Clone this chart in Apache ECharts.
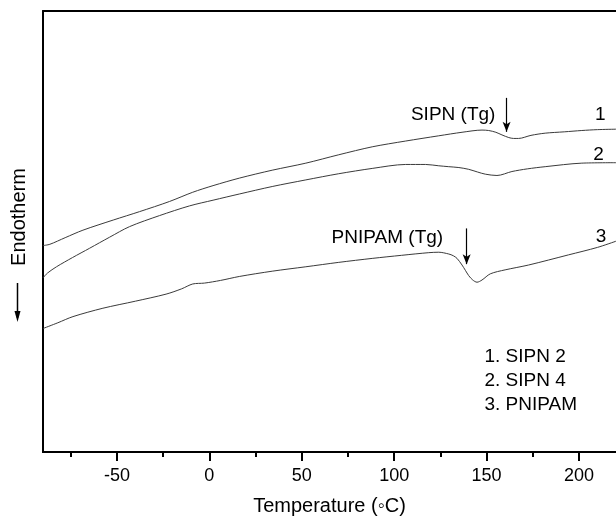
<!DOCTYPE html>
<html>
<head>
<meta charset="utf-8">
<script src="https://cdn.jsdelivr.net/npm/echarts@6/dist/echarts.min.js"></script>
<style>
html,body{margin:0;padding:0;background:#fff;}
#chart{width:616px;height:517px;}
</style>
</head>
<body>
<div id="chart"></div>
<script>
// ---- data (temperature in °C, heat flow in arbitrary units) ----
const curve1 = [[-90.1,46.8],[-86.3,47.1],[-78,48.6],[-68.4,50.3],[-52,52.6],[-37.8,54.5],[-21.6,56.8],[-9.0,58.9],[2,60.4],[16.2,62.1],[34,63.9],[52.2,65.5],[70,67.4],[88.1,69.2],[106,70.5],[124.1,71.7],[136.7,72.5],[147.5,73.0],[151.1,72.9],[155,72.5],[158.3,71.9],[162,71.3],[164.6,71.1],[167.3,71.1],[174,71.8],[181.7,72.3],[192,72.6],[201.5,72.9],[210,73.1],[220,73.2]];
const curve2 = [[-90,39.5],[-87.5,40.6],[-82.7,42.0],[-74,44.1],[-64.8,46.2],[-54,48.7],[-43.2,51.1],[-27,53.6],[-10.8,55.8],[2,57.1],[16.2,58.5],[34,60.2],[52.2,61.7],[70,63.1],[88.1,64.3],[106.2,65.2],[117.0,65.2],[124.1,64.9],[129.5,64.7],[135,64.5],[140.3,64.1],[145,63.5],[149.3,63.0],[155.6,62.7],[163.7,63.6],[172,64.2],[181.7,64.7],[201.5,65.5],[220,65.6]];
const curve3 = [[-90,28.0],[-82,29.3],[-73.8,30.7],[-57.6,32.6],[-40,34.2],[-23.4,35.8],[-15,37.0],[-9.0,38.1],[-2.7,38.3],[6,38.9],[16.2,39.8],[34,41.0],[52.2,42.0],[70,43.0],[88.1,43.9],[104,44.6],[118.7,45.2],[124.1,45.3],[129.5,44.9],[132,44.5],[134.0,43.9],[136.7,42.4],[138.5,41.2],[140.3,40.0],[142.5,39.0],[144.8,38.5],[147.5,39.0],[152.0,40.4],[160,41.3],[172.7,42.4],[194.3,44.7],[210,46.4],[220,47.8]];
const seriesNames = ['1','2','3'];
const legendLines = ['1. SIPN 2','2. SIPN 4','3. PNIPAM'];
const majorTicks = [-50,0,50,100,150,200];
const minorTicks = [-75,-25,25,75,125,175];
// annotations: [text, x, y] in data space
const curveNumbers = [['1',211.5,76.4],['2',210.5,67.3],['3',211.9,48.8]];
const tgLabels = [['SIPN (Tg)',131.9,76.4],['PNIPAM (Tg)',96.3,48.6]];
const tgArrows = [[160.8,80.3,72.6],[139.2,50.7,42.6]];
const xName = 'Temperature (\u25E6C)';
const yName = 'Endotherm';

const FONT = 'Liberation Sans, Arial, Helvetica, sans-serif';
const chart = echarts.init(document.getElementById('chart'), null, {renderer:'canvas'});

const X_MIN = -90, X_MAX = 220;
const axisCommon = {
  type:'value', min:X_MIN, max:X_MAX,
  splitLine:{show:false},
  axisLine:{show:true, onZero:false, lineStyle:{color:'#000', width:2}}
};

const option = {
  animation:false,
  backgroundColor:'#fff',
  grid:{left:43, top:11, width:573, height:441, show:false, containLabel:false, outerBoundsMode:'none'},
  xAxis:[
    Object.assign({}, axisCommon, {
      position:'bottom',
      name:xName, nameLocation:'middle', nameGap:44,
      nameTextStyle:{fontFamily:FONT, fontSize:20, color:'#000'},
      axisTick:{show:true, length:9, lineStyle:{color:'#000', width:2}, customValues:majorTicks},
      axisLabel:{show:true, fontFamily:FONT, fontSize:18, color:'#000', margin:15, customValues:majorTicks}
    }),
    Object.assign({}, axisCommon, {
      position:'bottom',
      axisTick:{show:true, length:5, lineStyle:{color:'#000', width:2}, customValues:minorTicks},
      axisLabel:{show:false}
    }),
    Object.assign({}, axisCommon, {
      position:'top', axisTick:{show:false}, axisLabel:{show:false}
    })
  ],
  yAxis:{type:'value', min:0, max:100, axisLine:{show:true, onZero:false, lineStyle:{color:'#000', width:2}},
    axisTick:{show:false}, axisLabel:{show:false}, splitLine:{show:false}},
  series:[curve1, curve2, curve3].map((d,i)=>({
    name:seriesNames[i], type:'line', data:d, showSymbol:false, smooth:0.3,
    lineStyle:{color:'#3a3a3a', width:1}, silent:true,
    markLine: (i===0 || i===2) ? {
      silent:true, symbol:['none','arrow'], symbolSize:[6,10],
      lineStyle:{color:'#000', width:1.2, type:'solid'}, label:{show:false},
      data:[[{coord:[tgArrows[i===0?0:1][0], tgArrows[i===0?0:1][1]]},{coord:[tgArrows[i===0?0:1][0], tgArrows[i===0?0:1][2]]}]]
    } : undefined,
    markPoint:{
      silent:true, symbol:'circle', symbolSize:0,
      label:{show:true, position:'inside', fontFamily:FONT, fontSize:19, color:'#000'},
      data: [ {coord:[curveNumbers[i][1], curveNumbers[i][2]], label:{formatter:curveNumbers[i][0]}} ]
        .concat(i===0 ? [{coord:[tgLabels[0][1],tgLabels[0][2]], label:{formatter:tgLabels[0][0]}}] : [])
        .concat(i===2 ? [{coord:[tgLabels[1][1],tgLabels[1][2]], label:{formatter:tgLabels[1][0]}}] : [])
    }
  })),
  graphic:[
    {type:'text', x:19, y:217, rotation:Math.PI/2, style:{text:yName, font:'20px '+FONT, fill:'#000', align:'center', verticalAlign:'middle'}},
    {type:'line', shape:{x1:17.5, y1:283, x2:17.5, y2:318}, style:{stroke:'#000', lineWidth:1.5}},
    {type:'polygon', shape:{points:[[14.5,311],[20.5,311],[17.5,322]]}, style:{fill:'#000'}}
  ].concat(legendLines.map((t,k)=>({type:'text', x:484.5, y:357+k*23.7,
    style:{text:t, font:'19px '+FONT, fill:'#000', align:'left', verticalAlign:'middle'}})))
};
chart.setOption(option);
</script>
</body>
</html>
